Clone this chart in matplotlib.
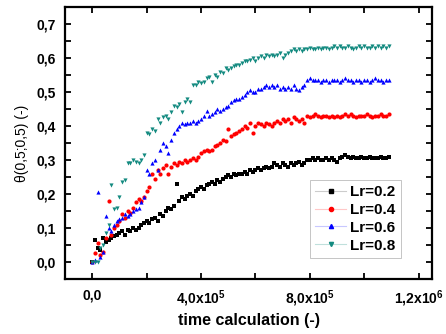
import numpy as np
import matplotlib
matplotlib.use("Agg")
import matplotlib.pyplot as plt
from matplotlib.lines import Line2D
from matplotlib.ticker import MultipleLocator, FuncFormatter

plt.rcParams['font.family'] = ['Liberation Sans', 'DejaVu Sans']
plt.rcParams['mathtext.fontset'] = 'custom'
plt.rcParams['mathtext.rm'] = 'Liberation Sans'
plt.rcParams['mathtext.bf'] = 'Liberation Sans:bold'

# time steps of the calculation
time = np.arange(110) * 1e4

lr02 = [0.0, 0.065, 0.04, 0.035, 0.07, 0.06, 0.065, 0.07, 0.075, 0.08,
        0.085, 0.09, 0.08, 0.095, 0.09, 0.1, 0.095, 0.1, 0.11, 0.115,
        0.12, 0.115, 0.125, 0.13, 0.12, 0.14, 0.135, 0.15, 0.16, 0.155,
        0.165, 0.23, 0.18, 0.19, 0.185, 0.195, 0.2, 0.195, 0.21, 0.215,
        0.22, 0.215, 0.225, 0.23, 0.235, 0.23, 0.24, 0.235, 0.245, 0.25,
        0.255, 0.25, 0.26, 0.255, 0.26, 0.26, 0.265, 0.26, 0.27, 0.265,
        0.27, 0.275, 0.27, 0.275, 0.28, 0.275, 0.28, 0.29, 0.285, 0.28,
        0.29, 0.285, 0.28, 0.29, 0.285, 0.29, 0.295, 0.285, 0.29, 0.3,
        0.3, 0.305, 0.3, 0.305, 0.3, 0.3, 0.305, 0.3, 0.305, 0.3,
        0.295, 0.305, 0.31, 0.315, 0.31, 0.305, 0.31, 0.305, 0.305, 0.31,
        0.305, 0.305, 0.31, 0.305, 0.305, 0.305, 0.31, 0.305, 0.305, 0.31]

lr04 = [0.0, 0.025, 0.055, 0.02, 0.03, 0.07, 0.18, 0.08, 0.1, 0.11,
        0.12, 0.14, 0.13, 0.15, 0.145, 0.16, 0.175, 0.185, 0.18, 0.19,
        0.21, 0.22, 0.26, 0.245, 0.27, 0.26, 0.275, 0.285, 0.26, 0.28,
        0.29, 0.285, 0.295, 0.29, 0.3, 0.295, 0.3, 0.305, 0.3, 0.31,
        0.32, 0.325, 0.33, 0.325, 0.33, 0.34, 0.345, 0.35, 0.36, 0.355,
        0.39, 0.37, 0.375, 0.38, 0.385, 0.39, 0.4, 0.395, 0.41, 0.38,
        0.4, 0.41, 0.405, 0.4, 0.41, 0.405, 0.4, 0.41, 0.415, 0.41,
        0.42, 0.415, 0.42, 0.41, 0.425, 0.42, 0.415, 0.42, 0.41, 0.43,
        0.425, 0.43, 0.435, 0.43, 0.425, 0.43, 0.43, 0.425, 0.43, 0.425,
        0.43, 0.425, 0.43, 0.435, 0.43, 0.435, 0.43, 0.425, 0.43, 0.43,
        0.43, 0.435, 0.43, 0.425, 0.43, 0.43, 0.435, 0.43, 0.43, 0.435]

lr06 = [0.0, 0.005, 0.205, 0.015, 0.03, 0.135, 0.1, 0.09, 0.11, 0.12,
        0.125, 0.13, 0.14, 0.135, 0.14, 0.15, 0.155, 0.16, 0.175, 0.19,
        0.27, 0.26, 0.29, 0.3, 0.27, 0.33, 0.35, 0.34, 0.32, 0.36,
        0.38, 0.39, 0.4, 0.41, 0.405, 0.41, 0.41, 0.415, 0.41, 0.415,
        0.42, 0.43, 0.445, 0.43, 0.435, 0.44, 0.45, 0.445, 0.45, 0.455,
        0.46, 0.47, 0.475, 0.48, 0.48, 0.485, 0.49, 0.5, 0.505, 0.5,
        0.5, 0.51, 0.51, 0.515, 0.52, 0.515, 0.52, 0.515, 0.52, 0.51,
        0.515, 0.51, 0.515, 0.51, 0.52, 0.51, 0.505, 0.515, 0.52, 0.535,
        0.54, 0.535, 0.535, 0.535, 0.53, 0.535, 0.535, 0.53, 0.535, 0.535,
        0.535, 0.53, 0.535, 0.54, 0.535, 0.535, 0.53, 0.535, 0.535, 0.53,
        0.535, 0.535, 0.53, 0.535, 0.54, 0.535, 0.535, 0.53, 0.535, 0.535]

lr08 = [0.0, 0.0, 0.0, 0.04, 0.05, 0.085, 0.11, 0.225, 0.155, 0.16,
        0.19, 0.235, 0.24, 0.29, 0.29, 0.3, 0.295, 0.29, 0.3, 0.315,
        0.38, 0.375, 0.39, 0.385, 0.42, 0.41, 0.425, 0.43, 0.42, 0.44,
        0.46, 0.455, 0.465, 0.44, 0.47, 0.48, 0.47, 0.52, 0.52, 0.53,
        0.525, 0.53, 0.54, 0.545, 0.53, 0.55, 0.545, 0.56, 0.555, 0.57,
        0.565, 0.57, 0.575, 0.58, 0.58, 0.585, 0.59, 0.59, 0.595, 0.6,
        0.59, 0.6, 0.605, 0.6, 0.61, 0.605, 0.61, 0.605, 0.61, 0.615,
        0.6, 0.61, 0.615, 0.62, 0.625, 0.62, 0.625, 0.62, 0.625, 0.625,
        0.63, 0.625, 0.625, 0.63, 0.625, 0.63, 0.63, 0.625, 0.63, 0.635,
        0.63, 0.635, 0.63, 0.63, 0.635, 0.63, 0.625, 0.63, 0.635, 0.63,
        0.635, 0.63, 0.63, 0.635, 0.63, 0.635, 0.63, 0.635, 0.63, 0.635]

labels = ["Lr=0.2", "Lr=0.4", "Lr=0.6", "Lr=0.8"]
series = [lr02, lr04, lr06, lr08]
colors = ["#000000", "#ff0000", "#0000ff", "#138a80"]
light = ["#cccccc", "#ffc8c8", "#c8c8ff", "#c0e0dc"]
markers = ["s", "o", "^", "v"]

fig = plt.figure(figsize=(4.46, 3.34), dpi=100)
ax = fig.add_axes([0.146, 0.165, 0.823, 0.814])

for y, c, m in zip(series, colors, markers):
    ax.plot(time, y, ls="none", marker=m, color=c, ms=3, mew=0)

ax.set_xlim(-1e5, 1.25e6)
ax.set_ylim(-0.05, 0.75)

ax.xaxis.set_major_locator(MultipleLocator(4e5))
ax.xaxis.set_minor_locator(MultipleLocator(2e5))
ax.yaxis.set_major_locator(MultipleLocator(0.1))
ax.yaxis.set_minor_locator(MultipleLocator(0.05))


def fmt_x(v, pos):
    if abs(v) < 1:
        return "0,0"
    exp = int(np.floor(np.log10(abs(v))))
    mant = v / 10 ** exp
    return ("%.1f" % mant).replace(".", ",") + "x10$^{\\mathbf{%d}}$" % exp


ax.xaxis.set_major_formatter(FuncFormatter(fmt_x))
ax.yaxis.set_major_formatter(FuncFormatter(lambda v, p: ("%.1f" % v).replace(".", ",")))

ax.tick_params(which="both", direction="in", top=True, right=True, width=1.3)
ax.tick_params(which="major", length=4, labelsize=10, pad=7)
ax.tick_params(which="minor", length=4)
for lab in ax.get_xticklabels() + ax.get_yticklabels():
    lab.set_fontweight("bold")
for s in ax.spines.values():
    s.set_linewidth(1.6)

ax.set_xlabel("time calculation (-)", fontsize=11.5, fontweight="bold", labelpad=3)
ax.set_ylabel("θ(0,5;0,5) (-)", fontsize=10, labelpad=5)

handles = [Line2D([], [], color=lc, lw=0.8, marker=m, markerfacecolor=c,
                  markeredgecolor=c, ms=3)
           for c, lc, m in zip(colors, light, markers)]
leg = ax.legend(handles, labels, loc="lower right", bbox_to_anchor=(0.915, 0.077),
                prop={"weight": "bold", "size": 11}, fancybox=False, framealpha=1,
                edgecolor="#bbbbbb", handlelength=2.0, handletextpad=0.3,
                labelspacing=0.25, borderpad=0.35, borderaxespad=0)
leg.get_frame().set_linewidth(0.6)

fig.savefig("out.png", dpi=100)
